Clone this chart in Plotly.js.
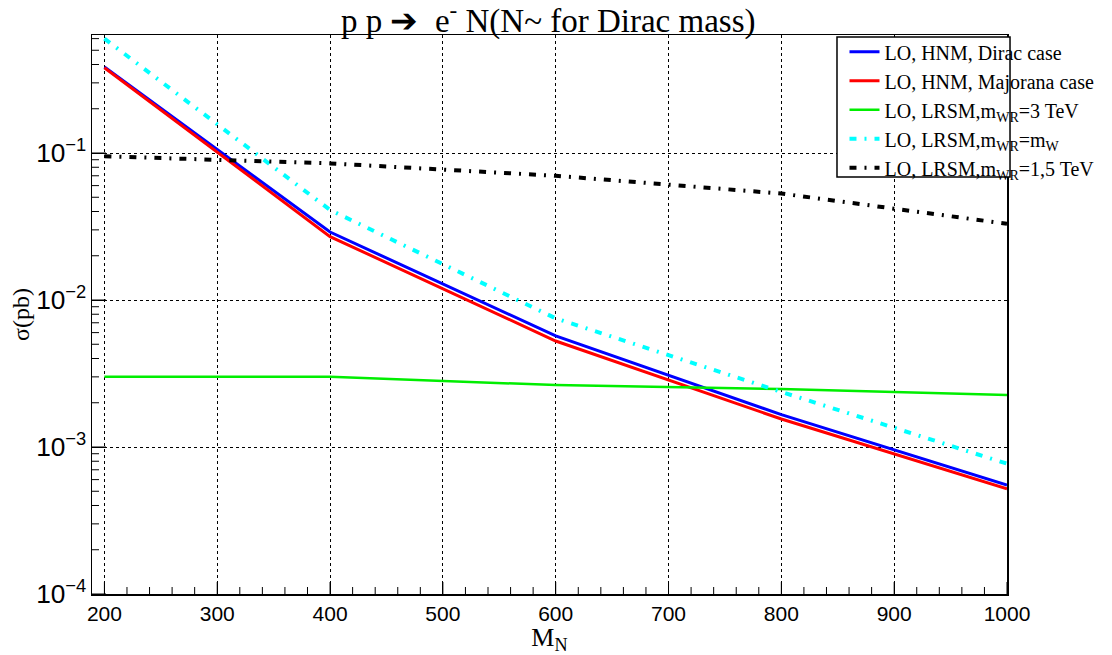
<!DOCTYPE html>
<html><head><meta charset="utf-8">
<script src="https://cdn.plot.ly/plotly-3.0.1.min.js"></script>
<style>body{margin:0;background:#fff}#plot{width:1112px;height:655px}</style>
</head><body><div id="plot"></div>
<script>
const massN = [200, 400, 600, 800, 1000];
const hnmDirac = [0.385, 0.029, 0.0057, 0.00166, 0.00055];
const hnmMajorana = [0.38, 0.027, 0.00526, 0.00155, 0.00052];
const lrsm3TeV = [0.00300, 0.00300, 0.00264, 0.00248, 0.00226];
const lrsmMW = [0.60, 0.041, 0.0075, 0.00237, 0.00077];
const lrsm15TeV = [0.095, 0.085, 0.070, 0.053, 0.033];
const seriesNames = [
  'LO, HNM, Dirac case',
  'LO, HNM, Majorana case',
  'LO, LRSM,m<sub>WR</sub>=3 TeV',
  'LO, LRSM,m<sub>WR</sub>=m<sub>W</sub>',
  'LO, LRSM,m<sub>WR</sub>=1,5 TeV'
];

const traces = [
  {x: massN, y: hnmDirac, name: seriesNames[0], mode: 'lines', line: {color: '#0000ff', width: 3}},
  {x: massN, y: hnmMajorana, name: seriesNames[1], mode: 'lines', line: {color: '#ff0000', width: 3}},
  {x: massN, y: lrsm3TeV, name: seriesNames[2], mode: 'lines', line: {color: '#00ee00', width: 2.5}},
  {x: massN, y: lrsmMW, name: seriesNames[3], mode: 'lines', line: {color: '#00ffff', width: 4, dash: '7px,8px,2px,8px'}},
  {x: massN, y: lrsm15TeV, name: seriesNames[4], mode: 'lines', line: {color: '#000000', width: 4, dash: '7px,8px,2px,8px'}}
];

const W = 1112, H = 655, M = {l: 92, r: 105, t: 35, b: 61};
const plotW = W - M.l - M.r, plotH = H - M.t - M.b;
const xRange = [189, 1000];
const yLogRange = [-4, Math.log10(0.635)];

// axis tick decorations (ROOT-style inside ticks)
const tickShapes = [];
for (let v = 200; v <= 1000; v += 20) {
  const len = (v % 100 === 0) ? 12 : 7;
  tickShapes.push({type: 'line', xref: 'x', yref: 'paper', x0: v, x1: v, y0: 0, y1: len / plotH,
    line: {color: '#000', width: 1}, layer: 'above'});
}
for (let e = -4; e <= 0; e++) {
  for (let k = 1; k <= 9; k++) {
    const lv = e + Math.log10(k);
    if (lv < yLogRange[0] || lv > yLogRange[1]) continue;
    const len = (k === 1) ? 14 : 7;
    const yp = (lv - yLogRange[0]) / (yLogRange[1] - yLogRange[0]);
    tickShapes.push({type: 'line', xref: 'paper', yref: 'paper', x0: 0, x1: len / plotW, y0: yp, y1: yp,
      line: {color: '#000', width: 1}, layer: 'above'});
  }
}

const tickFont = {family: 'Liberation Sans, Arial, sans-serif', size: 21, color: '#000'};
const layout = {
  width: W, height: H,
  margin: {l: M.l, r: M.r, t: M.t, b: M.b, autoexpand: false},
  title: {text: 'p p \u2794  e<sup>-</sup> N(N~ for Dirac mass)', x: 0.493, xanchor: 'center', y: 0.969, yanchor: 'middle',
          font: {family: 'Liberation Serif, serif', size: 33, color: '#000'}},
  xaxis: {
    range: xRange, tickmode: 'linear', tick0: 200, dtick: 100,
    ticks: 'inside', ticklen: 12, tickcolor: '#000', tickwidth: 1,
    showgrid: true, gridcolor: '#000', griddash: 'dot',
    showline: true, linecolor: '#000', linewidth: 1.5, mirror: true, zeroline: false,
    tickfont: tickFont,
    title: {text: 'M<sub>N</sub>', font: {family: 'Liberation Serif, serif', size: 26, color: '#000'}}
  },
  yaxis: {
    type: 'log', range: yLogRange, tickmode: 'linear', tick0: 0, dtick: 1,
    exponentformat: 'power',
    ticks: 'inside', ticklen: 14, tickcolor: '#000', tickwidth: 1,
    showgrid: true, gridcolor: '#000', griddash: 'dot',
    showline: true, linecolor: '#000', linewidth: 1.5, mirror: true, zeroline: false,
    tickfont: tickFont,
    title: {text: '\u03c3(pb)', font: {family: 'Liberation Serif, serif', size: 24, color: '#000'}}
  },
  legend: {
    x: 0.8224, y: 1.005, xanchor: 'left', yanchor: 'top',
    bgcolor: 'rgba(0,0,0,0)', borderwidth: 0,
    font: {family: 'Liberation Serif, serif', size: 20, color: '#000'},
    tracegroupgap: 0
  },
  shapes: [
    {type: 'rect', xref: 'paper', yref: 'paper', x0: 0.8142, x1: 1.0033, y0: 0.746, y1: 0.9964,
     line: {color: '#000', width: 1.5}, fillcolor: '#fff', layer: 'above'}
  ].concat(tickShapes),
  showlegend: true
};
Plotly.newPlot('plot', traces, layout, {displayModeBar: false, staticPlot: true});
</script></body></html>
